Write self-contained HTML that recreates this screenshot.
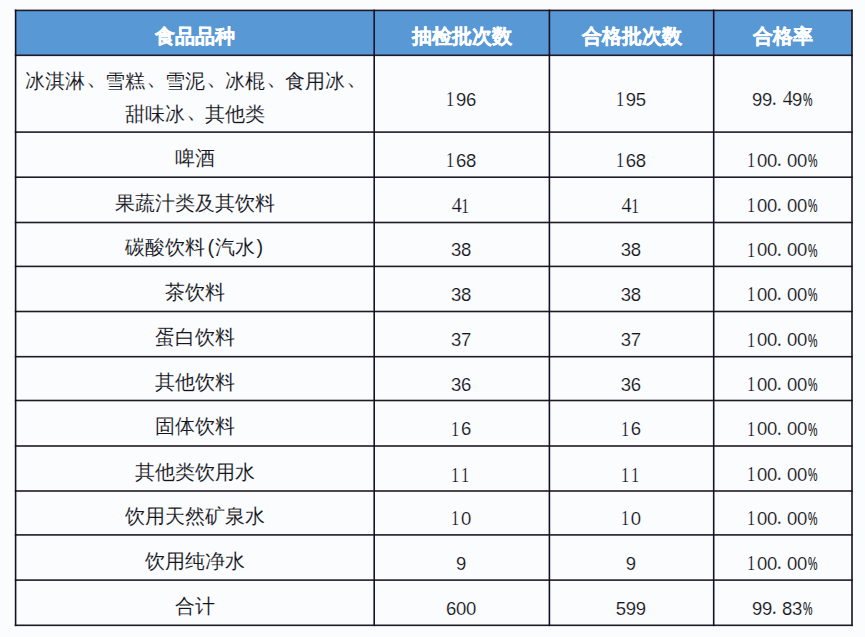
<!DOCTYPE html>
<html><head><meta charset="utf-8"><style>
html,body{margin:0;padding:0;}
body{width:865px;height:637px;background:#fbfcfe;position:relative;overflow:hidden;font-family:"Liberation Sans",sans-serif;color:#141420;}
.l{position:absolute;background:#141026;}
.c{position:absolute;display:flex;align-items:center;justify-content:center;text-align:center;font-size:20px;line-height:34px;white-space:nowrap;}
.hd{color:#fff;font-weight:bold;-webkit-text-stroke:0.3px #fff;}
.pa{display:inline-block;width:10px;text-align:center;font-style:normal;}
.dn{display:inline-block;transform:translate(2.5px,-3.5px) scale(1.15);}
.t{-webkit-text-stroke:0.1px #fbfcfe;}
.n{font-family:"Liberation Serif",serif;font-size:20px;display:inline-block;position:relative;top:1px;-webkit-text-stroke:0.15px #fbfcfe;}
.n i{font-style:normal;display:inline-block;width:10px;text-align:center;}
.n i.s{font-family:"Liberation Sans",sans-serif;font-size:18.5px;position:relative;left:-0.8px;top:0.5px;}
.n i.p{text-align:left;text-indent:-1px;}
.n i.o{transform:translate(-1.8px,0.6px) scaleX(0.82);}
.n i.q{font-family:"Liberation Sans",sans-serif;font-size:19px;-webkit-text-stroke:0.2px #141420;transform:translate(-2.3px,0.7px) scaleX(0.56);}
</style></head><body>

<svg style="position:absolute;left:0;top:0" width="865" height="637" viewBox="0 0 865 637"><rect x="15.6" y="10.4" width="836.40" height="44.90" fill="#5898d5"/><rect x="14.80" y="9.60" width="838.00" height="1.6" fill="#201a26"/><rect x="14.80" y="54.50" width="838.00" height="1.6" fill="#201a26"/><rect x="14.80" y="131.30" width="838.00" height="1.6" fill="#201a26"/><rect x="14.80" y="176.40" width="838.00" height="1.6" fill="#201a26"/><rect x="14.80" y="221.70" width="838.00" height="1.6" fill="#201a26"/><rect x="14.80" y="265.60" width="838.00" height="1.6" fill="#201a26"/><rect x="14.80" y="310.70" width="838.00" height="1.6" fill="#201a26"/><rect x="14.80" y="355.90" width="838.00" height="1.6" fill="#201a26"/><rect x="14.80" y="399.70" width="838.00" height="1.6" fill="#201a26"/><rect x="14.80" y="445.20" width="838.00" height="1.6" fill="#201a26"/><rect x="14.80" y="490.20" width="838.00" height="1.6" fill="#201a26"/><rect x="14.80" y="534.10" width="838.00" height="1.6" fill="#201a26"/><rect x="14.80" y="579.30" width="838.00" height="1.6" fill="#201a26"/><rect x="14.80" y="624.50" width="838.00" height="1.6" fill="#201a26"/><rect x="14.80" y="9.60" width="1.6" height="616.50" fill="#141026"/><rect x="373.40" y="9.60" width="1.6" height="616.50" fill="#141026"/><rect x="548.60" y="9.60" width="1.6" height="616.50" fill="#141026"/><rect x="712.90" y="9.60" width="1.6" height="616.50" fill="#141026"/><rect x="851.20" y="9.60" width="1.6" height="616.50" fill="#141026"/></svg>
<div class="c hd" style="left:16.40px;top:16.35px;width:357.00px;height:40px;">食品品种</div>
<div class="c hd" style="left:375.00px;top:16.35px;width:173.60px;height:40px;">抽检批次数</div>
<div class="c hd" style="left:550.20px;top:16.35px;width:162.70px;height:40px;">合格批次数</div>
<div class="c hd" style="left:714.50px;top:16.35px;width:136.70px;height:40px;">合格率</div>
<div class="c" style="left:16.40px;top:77.70px;width:357.00px;height:40px;line-height:33px"><span class="t">冰淇淋<span class="dn">、</span>雪糕<span class="dn">、</span>雪泥<span class="dn">、</span>冰棍<span class="dn">、</span>食用冰<span class="dn">、</span><br>甜味冰<span class="dn">、</span>其他类</span></div>
<div class="c" style="left:375.00px;top:77.70px;width:173.60px;height:40px;"><span class="n"><i class="o">1</i><i class="s">9</i><i class="s">6</i></span></div>
<div class="c" style="left:550.20px;top:77.70px;width:162.70px;height:40px;"><span class="n"><i class="o">1</i><i class="s">9</i><i class="s">5</i></span></div>
<div class="c" style="left:714.50px;top:77.70px;width:136.70px;height:40px;"><span class="n"><i class="s">9</i><i class="s">9</i><i class="p">.</i><i>4</i><i class="s">9</i><i class="q">%</i></span></div>
<div class="c" style="left:16.40px;top:137.65px;width:357.00px;height:40px;"><span class="t">啤酒</span></div>
<div class="c" style="left:375.00px;top:138.65px;width:173.60px;height:40px;"><span class="n"><i class="o">1</i><i class="s">6</i><i class="s">8</i></span></div>
<div class="c" style="left:550.20px;top:138.65px;width:162.70px;height:40px;"><span class="n"><i class="o">1</i><i class="s">6</i><i class="s">8</i></span></div>
<div class="c" style="left:714.50px;top:138.65px;width:136.70px;height:40px;"><span class="n"><i class="o">1</i><i class="s">0</i><i class="s">0</i><i class="p">.</i><i class="s">0</i><i class="s">0</i><i class="q">%</i></span></div>
<div class="c" style="left:16.40px;top:182.85px;width:357.00px;height:40px;"><span class="t">果蔬汁类及其饮料</span></div>
<div class="c" style="left:375.00px;top:183.85px;width:173.60px;height:40px;"><span class="n"><i>4</i><i class="o">1</i></span></div>
<div class="c" style="left:550.20px;top:183.85px;width:162.70px;height:40px;"><span class="n"><i>4</i><i class="o">1</i></span></div>
<div class="c" style="left:714.50px;top:183.85px;width:136.70px;height:40px;"><span class="n"><i class="o">1</i><i class="s">0</i><i class="s">0</i><i class="p">.</i><i class="s">0</i><i class="s">0</i><i class="q">%</i></span></div>
<div class="c" style="left:16.40px;top:227.45px;width:357.00px;height:40px;"><span class="t">碳酸饮料<i class="pa" style="text-indent:2px">(</i>汽水<i class="pa">)</i></span></div>
<div class="c" style="left:375.00px;top:228.45px;width:173.60px;height:40px;"><span class="n"><i class="s">3</i><i class="s">8</i></span></div>
<div class="c" style="left:550.20px;top:228.45px;width:162.70px;height:40px;"><span class="n"><i class="s">3</i><i class="s">8</i></span></div>
<div class="c" style="left:714.50px;top:228.45px;width:136.70px;height:40px;"><span class="n"><i class="o">1</i><i class="s">0</i><i class="s">0</i><i class="p">.</i><i class="s">0</i><i class="s">0</i><i class="q">%</i></span></div>
<div class="c" style="left:16.40px;top:271.95px;width:357.00px;height:40px;"><span class="t">茶饮料</span></div>
<div class="c" style="left:375.00px;top:272.95px;width:173.60px;height:40px;"><span class="n"><i class="s">3</i><i class="s">8</i></span></div>
<div class="c" style="left:550.20px;top:272.95px;width:162.70px;height:40px;"><span class="n"><i class="s">3</i><i class="s">8</i></span></div>
<div class="c" style="left:714.50px;top:272.95px;width:136.70px;height:40px;"><span class="n"><i class="o">1</i><i class="s">0</i><i class="s">0</i><i class="p">.</i><i class="s">0</i><i class="s">0</i><i class="q">%</i></span></div>
<div class="c" style="left:16.40px;top:317.10px;width:357.00px;height:40px;"><span class="t">蛋白饮料</span></div>
<div class="c" style="left:375.00px;top:318.10px;width:173.60px;height:40px;"><span class="n"><i class="s">3</i><i class="s">7</i></span></div>
<div class="c" style="left:550.20px;top:318.10px;width:162.70px;height:40px;"><span class="n"><i class="s">3</i><i class="s">7</i></span></div>
<div class="c" style="left:714.50px;top:318.10px;width:136.70px;height:40px;"><span class="n"><i class="o">1</i><i class="s">0</i><i class="s">0</i><i class="p">.</i><i class="s">0</i><i class="s">0</i><i class="q">%</i></span></div>
<div class="c" style="left:16.40px;top:361.60px;width:357.00px;height:40px;"><span class="t">其他饮料</span></div>
<div class="c" style="left:375.00px;top:362.60px;width:173.60px;height:40px;"><span class="n"><i class="s">3</i><i class="s">6</i></span></div>
<div class="c" style="left:550.20px;top:362.60px;width:162.70px;height:40px;"><span class="n"><i class="s">3</i><i class="s">6</i></span></div>
<div class="c" style="left:714.50px;top:362.60px;width:136.70px;height:40px;"><span class="n"><i class="o">1</i><i class="s">0</i><i class="s">0</i><i class="p">.</i><i class="s">0</i><i class="s">0</i><i class="q">%</i></span></div>
<div class="c" style="left:16.40px;top:406.25px;width:357.00px;height:40px;"><span class="t">固体饮料</span></div>
<div class="c" style="left:375.00px;top:407.25px;width:173.60px;height:40px;"><span class="n"><i class="o">1</i><i class="s">6</i></span></div>
<div class="c" style="left:550.20px;top:407.25px;width:162.70px;height:40px;"><span class="n"><i class="o">1</i><i class="s">6</i></span></div>
<div class="c" style="left:714.50px;top:407.25px;width:136.70px;height:40px;"><span class="n"><i class="o">1</i><i class="s">0</i><i class="s">0</i><i class="p">.</i><i class="s">0</i><i class="s">0</i><i class="q">%</i></span></div>
<div class="c" style="left:16.40px;top:451.50px;width:357.00px;height:40px;"><span class="t">其他类饮用水</span></div>
<div class="c" style="left:375.00px;top:452.50px;width:173.60px;height:40px;"><span class="n"><i class="o">1</i><i class="o">1</i></span></div>
<div class="c" style="left:550.20px;top:452.50px;width:162.70px;height:40px;"><span class="n"><i class="o">1</i><i class="o">1</i></span></div>
<div class="c" style="left:714.50px;top:452.50px;width:136.70px;height:40px;"><span class="n"><i class="o">1</i><i class="s">0</i><i class="s">0</i><i class="p">.</i><i class="s">0</i><i class="s">0</i><i class="q">%</i></span></div>
<div class="c" style="left:16.40px;top:495.95px;width:357.00px;height:40px;"><span class="t">饮用天然矿泉水</span></div>
<div class="c" style="left:375.00px;top:496.95px;width:173.60px;height:40px;"><span class="n"><i class="o">1</i><i class="s">0</i></span></div>
<div class="c" style="left:550.20px;top:496.95px;width:162.70px;height:40px;"><span class="n"><i class="o">1</i><i class="s">0</i></span></div>
<div class="c" style="left:714.50px;top:496.95px;width:136.70px;height:40px;"><span class="n"><i class="o">1</i><i class="s">0</i><i class="s">0</i><i class="p">.</i><i class="s">0</i><i class="s">0</i><i class="q">%</i></span></div>
<div class="c" style="left:16.40px;top:540.50px;width:357.00px;height:40px;"><span class="t">饮用纯净水</span></div>
<div class="c" style="left:375.00px;top:541.50px;width:173.60px;height:40px;"><span class="n"><i class="s">9</i></span></div>
<div class="c" style="left:550.20px;top:541.50px;width:162.70px;height:40px;"><span class="n"><i class="s">9</i></span></div>
<div class="c" style="left:714.50px;top:541.50px;width:136.70px;height:40px;"><span class="n"><i class="o">1</i><i class="s">0</i><i class="s">0</i><i class="p">.</i><i class="s">0</i><i class="s">0</i><i class="q">%</i></span></div>
<div class="c" style="left:16.40px;top:585.70px;width:357.00px;height:40px;"><span class="t">合计</span></div>
<div class="c" style="left:375.00px;top:586.70px;width:173.60px;height:40px;"><span class="n"><i class="s">6</i><i class="s">0</i><i class="s">0</i></span></div>
<div class="c" style="left:550.20px;top:586.70px;width:162.70px;height:40px;"><span class="n"><i class="s">5</i><i class="s">9</i><i class="s">9</i></span></div>
<div class="c" style="left:714.50px;top:586.70px;width:136.70px;height:40px;"><span class="n"><i class="s">9</i><i class="s">9</i><i class="p">.</i><i class="s">8</i><i class="s">3</i><i class="q">%</i></span></div>
</body></html>
